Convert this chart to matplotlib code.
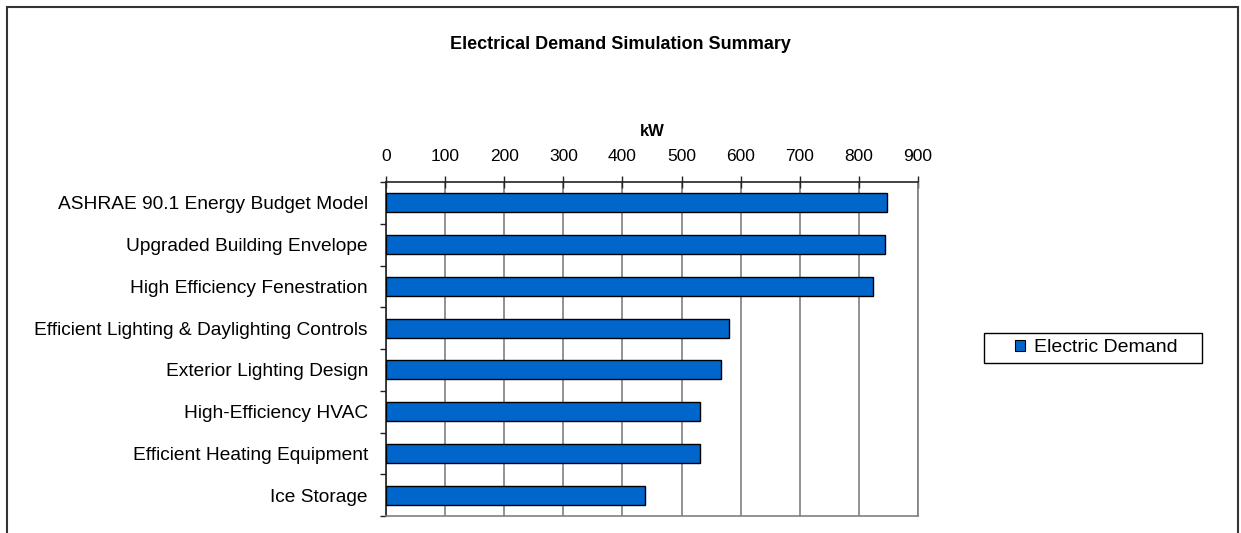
import numpy as np
import matplotlib.pyplot as plt
from matplotlib.patches import Rectangle, Patch

plt.rcParams["font.family"] = ["Liberation Sans", "DejaVu Sans"]

# ── data ──────────────────────────────────────────────────────────────────────
measures = [
    "ASHRAE 90.1 Energy Budget Model",
    "Upgraded Building Envelope",
    "High Efficiency Fenestration",
    "Efficient Lighting & Daylighting Controls",
    "Exterior Lighting Design",
    "High-Efficiency HVAC",
    "Efficient Heating Equipment",
    "Ice Storage",
]
demand_kw = [848, 844, 824, 581, 566, 532, 532, 438]
x_ticks = [0, 100, 200, 300, 400, 500, 600, 700, 800, 900]

BAR_COLOR = "#0066CC"
GRID_COLOR = "#808080"


def main():
    fig = plt.figure(figsize=(12.41, 5.33), dpi=100)
    fig.patch.set_facecolor("white")

    # outer chart frame (runs off the bottom edge)
    W, H = 1241, 533
    fig.add_artist(Rectangle((7 / W, -0.05), (1238 - 7) / W, (H - 7) / H + 0.05,
                             transform=fig.transFigure, fill=False,
                             edgecolor="#333333", lw=1.5))

    ax = fig.add_axes([386 / W, 1 - 516 / H, (918 - 386) / W, (516 - 182) / H])

    n = len(measures)
    y = np.arange(n)
    ax.barh(y, demand_kw, height=0.45, color=BAR_COLOR, edgecolor="black",
            lw=1.0, label="Electric Demand", zorder=3)

    ax.set_ylim(n - 0.5, -0.5)
    ax.set_xlim(0, 900)
    ax.set_xticks(x_ticks)

    ax.xaxis.tick_top()
    ax.xaxis.set_label_position("top")
    ax.set_xlabel("kW", fontsize=12, fontweight="bold", labelpad=9)
    ax.tick_params(axis="x", direction="inout", length=8, width=1,
                   labelsize=12.5, pad=9, color="#222222")

    ax.set_yticks(y)
    ax.set_yticklabels(measures, fontsize=13.8)
    ax.set_yticks(np.arange(n + 1) - 0.5, minor=True)
    ax.tick_params(axis="y", which="major", length=0, pad=13)
    ax.tick_params(axis="y", which="minor", direction="out", length=4,
                   width=1, color="#222222")

    ax.grid(axis="x", color=GRID_COLOR, lw=1.2, zorder=0)
    for side in ("top", "left"):
        ax.spines[side].set_color("#222222")
        ax.spines[side].set_linewidth(1.2)
    for side in ("bottom", "right"):
        ax.spines[side].set_color(GRID_COLOR)
        ax.spines[side].set_linewidth(1.2)

    fig.text(620 / W, 1 - 45 / H, "Electrical Demand Simulation Summary",
             ha="center", va="center", fontsize=13, fontweight="bold")

    # legend: own box so the padding is wider than tall
    fig.add_artist(Rectangle((984 / W, 1 - 363 / H), (1202 - 984) / W, 30 / H,
                             transform=fig.transFigure, fill=False,
                             edgecolor="black", lw=1.0))
    handle = Patch(facecolor=BAR_COLOR, edgecolor="black", lw=0.8)
    fig.legend([handle], ["Electric Demand"], loc="center left",
               bbox_to_anchor=(1015 / W, 1 - 348 / H), fontsize=14,
               frameon=False, handlelength=0.52, handleheight=0.52,
               handletextpad=0.45, borderpad=0, borderaxespad=0)

    fig.savefig("out.png", dpi=100)
    plt.close(fig)


if __name__ == "__main__":
    main()
